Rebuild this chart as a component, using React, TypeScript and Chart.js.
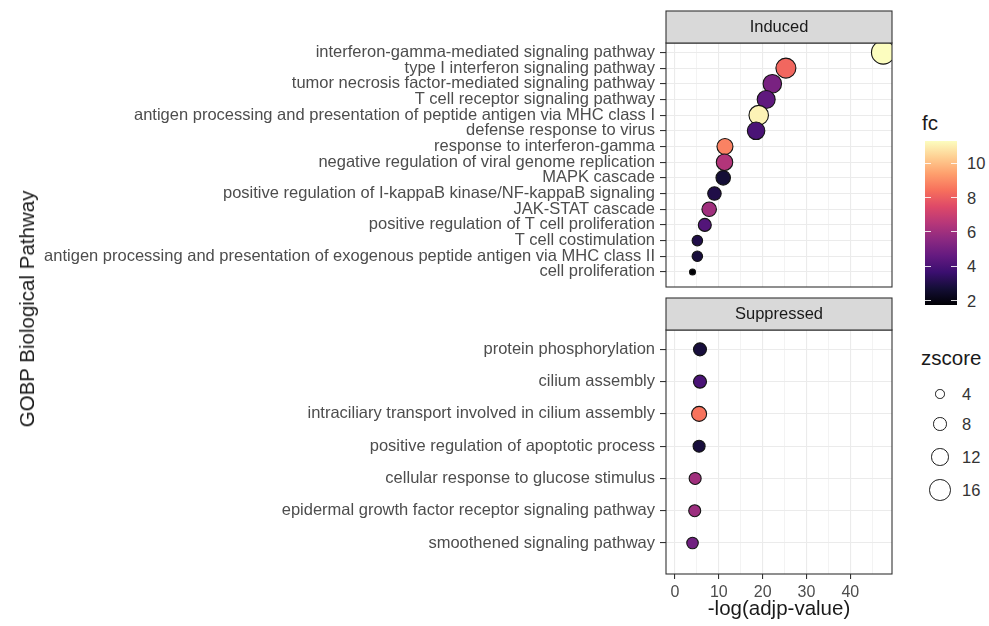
import { useEffect, useRef } from 'react';
import { Chart, registerables } from 'chart.js';

Chart.register(...registerables);

const FONT = '"Liberation Sans", Arial, Helvetica, sans-serif';

const INDUCED_PATHWAYS = [
  'interferon-gamma-mediated signaling pathway',
  'type I interferon signaling pathway',
  'tumor necrosis factor-mediated signaling pathway',
  'T cell receptor signaling pathway',
  'antigen processing and presentation of peptide antigen via MHC class I',
  'defense response to virus',
  'response to interferon-gamma',
  'negative regulation of viral genome replication',
  'MAPK cascade',
  'positive regulation of I-kappaB kinase/NF-kappaB signaling',
  'JAK-STAT cascade',
  'positive regulation of T cell proliferation',
  'T cell costimulation',
  'antigen processing and presentation of exogenous peptide antigen via MHC class II',
  'cell proliferation',
];
const INDUCED_LOGP = [47.5, 25.3, 22.2, 20.8, 19.1, 18.5, 11.4, 11.3, 11.0, 9.0, 7.8, 6.8, 5.1, 5.1, 4.0];
const INDUCED_FC = [11.3, 8.2, 5.1, 4.5, 11.1, 4.0, 8.8, 6.4, 2.7, 3.0, 6.0, 4.2, 3.0, 2.8, 1.74];
const INDUCED_ZSCORE = [19, 15.5, 14, 13.5, 15, 13, 11.5, 12, 10, 9, 10, 8.5, 6, 6, 1.5];

const SUPPRESSED_PATHWAYS = [
  'protein phosphorylation',
  'cilium assembly',
  'intraciliary transport involved in cilium assembly',
  'positive regulation of apoptotic process',
  'cellular response to glucose stimulus',
  'epidermal growth factor receptor signaling pathway',
  'smoothened signaling pathway',
];
const SUPPRESSED_LOGP = [5.7, 5.7, 5.5, 5.5, 4.6, 4.5, 4.0];
const SUPPRESSED_FC = [2.8, 4.0, 8.5, 2.8, 6.0, 5.9, 4.9];
const SUPPRESSED_ZSCORE = [8.5, 8.5, 10.5, 7.5, 7.5, 7.5, 7];

const X_LABEL_TICKS = [0, 10, 20, 30, 40];
const X_GRID_TICKS = [0, 5, 10, 15, 20, 25, 30, 35, 40, 45];
const X_MIN = -2.05;
const X_MAX = 49.5;
const FC_TICKS = [2, 4, 6, 8, 10];
const ZSCORE_BREAKS = [4, 8, 12, 16];
const ZSCORE_KEY_Y = [394, 424, 457, 490];

const ALL_FC = [...INDUCED_FC, ...SUPPRESSED_FC];
const FC_MIN = Math.min(...ALL_FC);
const FC_MAX = Math.max(...ALL_FC);

const MAGMA = ['#000004', '#140e36', '#3b0f70', '#641a80', '#8c2981', '#b73779', '#de4968', '#f7705c', '#fe9f6d', '#fecf92', '#fcfdbf'];

function hexToRgb(h: string) {
  return [parseInt(h.slice(1, 3), 16), parseInt(h.slice(3, 5), 16), parseInt(h.slice(5, 7), 16)];
}
function magma(t: number) {
  const c = Math.max(0, Math.min(1, t)) * (MAGMA.length - 1);
  const i = Math.min(MAGMA.length - 2, Math.floor(c));
  const f = c - i;
  const a = hexToRgb(MAGMA[i]);
  const b = hexToRgb(MAGMA[i + 1]);
  const m = a.map((v, k) => Math.round(v + (b[k] - v) * f));
  return `rgb(${m[0]},${m[1]},${m[2]})`;
}
function fcColor(fc: number) {
  return magma((fc - FC_MIN) / (FC_MAX - FC_MIN));
}
function zDiameter(z: number) {
  return 5.5 + z;
}

function panelDecor(title: string) {
  return {
    id: 'panelDecor',
    afterDraw(chart: any) {
      const { ctx, chartArea: a } = chart;
      ctx.save();
      const w = a.right - a.left;
      ctx.lineWidth = 1.1;
      ctx.strokeStyle = '#333333';
      ctx.strokeRect(a.left, a.top, w, a.bottom - a.top);
      ctx.fillStyle = '#D9D9D9';
      ctx.fillRect(a.left, a.top - 32, w, 32);
      ctx.strokeRect(a.left, a.top - 32, w, 32);
      ctx.fillStyle = '#1A1A1A';
      ctx.font = `16.5px ${FONT}`;
      ctx.textAlign = 'center';
      ctx.textBaseline = 'middle';
      ctx.fillText(title, (a.left + a.right) / 2, a.top - 16);
      ctx.restore();
    },
  };
}

function makePanel(
  canvas: HTMLCanvasElement,
  title: string,
  labels: string[],
  logp: number[],
  fc: number[],
  z: number[],
  showX: boolean,
  padTop: number,
  padBottom: number
) {
  const n = labels.length;
  return new Chart(canvas, {
    type: 'scatter',
    data: {
      datasets: [
        {
          data: logp.map((v, i) => ({ x: v, y: i })),
          pointRadius: z.map((v) => (zDiameter(v) - 1) / 2),
          pointHoverRadius: z.map((v) => (zDiameter(v) - 1) / 2),
          pointBackgroundColor: fc.map(fcColor),
          pointBorderColor: '#141414',
          pointBorderWidth: 1.1,
          clip: 0,
        } as any,
      ],
    },
    options: {
      responsive: false,
      animation: false,
      events: [],
      layout: { autoPadding: false, padding: { top: padTop, bottom: padBottom, left: 0, right: 8 } },
      plugins: { legend: { display: false }, tooltip: { enabled: false } },
      scales: {
        x: {
          type: 'linear',
          min: X_MIN,
          max: X_MAX,
          afterBuildTicks: (s: any) => {
            s.ticks = X_GRID_TICKS.map((v) => ({ value: v }));
          },
          afterFit: (s: any) => {
            s.height = showX ? 50 : 0;
            s.paddingLeft = 0;
            s.paddingRight = 0;
          },
          ticks: {
            display: showX,
            autoSkip: false,
            maxRotation: 0,
            padding: 4,
            color: '#4D4D4D',
            font: { size: 16, family: FONT },
            callback: (v: any) => (X_LABEL_TICKS.includes(Number(v)) ? String(v) : ''),
          },
          grid: {
            color: '#EBEBEB',
            lineWidth: (c: any) => (c.tick && c.tick.value % 10 === 0 ? 1.1 : 0.6),
            drawTicks: showX,
            tickLength: 5,
            tickWidth: 1.1,
            tickColor: (c: any) => (c.tick && c.tick.value % 10 === 0 ? '#333333' : 'rgba(0,0,0,0)'),
          },
          border: { display: false },
          title: {
            display: showX,
            text: '-log(adjp-value)',
            color: '#1A1A1A',
            font: { size: 20.5, family: FONT },
            padding: { top: 0, bottom: 2 },
          },
        },
        y: {
          type: 'linear',
          reverse: true,
          min: -0.6,
          max: n - 1 + 0.96,
          afterBuildTicks: (s: any) => {
            s.ticks = labels.map((_, i) => ({ value: i }));
          },
          afterFit: (s: any) => {
            s.width = 666;
            s.paddingTop = 0;
            s.paddingBottom = 0;
          },
          ticks: {
            autoSkip: false,
            padding: 5,
            color: '#4D4D4D',
            font: { size: 16.5, family: FONT },
            callback: (_v: any, i: number) => labels[i],
          },
          grid: {
            color: '#EBEBEB',
            lineWidth: 1.1,
            tickLength: 6,
            tickWidth: 1.1,
            tickColor: '#333333',
          },
          border: { display: false },
        },
      },
    } as any,
    plugins: [panelDecor(title)],
  });
}

export default function App() {
  const topRef = useRef<HTMLCanvasElement>(null);
  const botRef = useRef<HTMLCanvasElement>(null);

  useEffect(() => {
    Chart.defaults.font.family = FONT;
    const c1 = makePanel(topRef.current!, 'Induced', INDUCED_PATHWAYS, INDUCED_LOGP, INDUCED_FC, INDUCED_ZSCORE, false, 43, 8);
    const c2 = makePanel(botRef.current!, 'Suppressed', SUPPRESSED_PATHWAYS, SUPPRESSED_LOGP, SUPPRESSED_FC, SUPPRESSED_ZSCORE, true, 35, 2);
    return () => {
      c1.destroy();
      c2.destroy();
    };
  }, []);

  const barTop = 141;
  const barH = 164;
  const fcY = (v: number) => barTop + ((FC_MAX - v) / (FC_MAX - FC_MIN)) * barH;
  const gradient = `linear-gradient(to top, ${MAGMA.map((c, i) => `${c} ${(i / (MAGMA.length - 1)) * 100}%`).join(', ')})`;

  return (
    <div style={{ position: 'fixed', left: 0, top: 0, width: 989, height: 626, background: '#ffffff', fontFamily: FONT, overflow: 'hidden' }}>
      <canvas ref={topRef} width={900} height={295} style={{ position: 'absolute', left: 0, top: 0, width: 900, height: 295 }} />
      <canvas ref={botRef} width={900} height={331} style={{ position: 'absolute', left: 0, top: 295, width: 900, height: 331 }} />
      <div
        style={{
          position: 'absolute',
          left: 27,
          top: 309,
          transform: 'translate(-50%, -50%) rotate(-90deg)',
          whiteSpace: 'nowrap',
          fontSize: 20.5,
          lineHeight: '24px',
          color: '#1A1A1A',
        }}
      >
        GOBP Biological Pathway
      </div>
      <div style={{ position: 'absolute', left: 922, top: 111, fontSize: 20.5, lineHeight: '24px', color: '#1A1A1A' }}>fc</div>
      <div style={{ position: 'absolute', left: 925, top: barTop, width: 32, height: barH, background: gradient }} />
      {FC_TICKS.map((v) => (
        <div key={'t' + v}>
          <div style={{ position: 'absolute', left: 925, top: fcY(v) - 0.5, width: 6, height: 1, background: 'rgba(255,255,255,0.85)' }} />
          <div style={{ position: 'absolute', left: 951, top: fcY(v) - 0.5, width: 6, height: 1, background: 'rgba(255,255,255,0.85)' }} />
          <div style={{ position: 'absolute', left: 967, top: fcY(v) - 10, fontSize: 16.5, lineHeight: '20px', color: '#333333' }}>{v}</div>
        </div>
      ))}
      <div style={{ position: 'absolute', left: 921, top: 346, fontSize: 20.5, lineHeight: '24px', color: '#1A1A1A' }}>zscore</div>
      {ZSCORE_BREAKS.map((z, i) => {
        const d = zDiameter(z);
        return (
          <div key={'z' + z}>
            <div
              style={{
                position: 'absolute',
                left: 940 - d / 2,
                top: ZSCORE_KEY_Y[i] - d / 2,
                width: d,
                height: d,
                boxSizing: 'border-box',
                border: '1.3px solid #1A1A1A',
                borderRadius: '50%',
              }}
            />
            <div style={{ position: 'absolute', left: 962, top: ZSCORE_KEY_Y[i] - 10, fontSize: 16.5, lineHeight: '20px', color: '#333333' }}>{z}</div>
          </div>
        );
      })}
    </div>
  );
}
